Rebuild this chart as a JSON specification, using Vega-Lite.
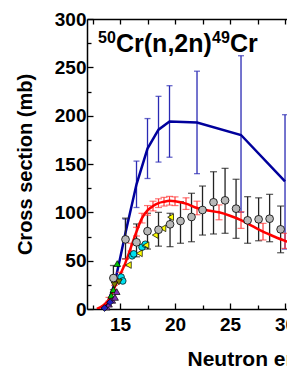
{
  "$schema": "https://vega.github.io/schema/vega-lite/v6.json",
  "autosize": {"type": "none"},
  "padding": {"left": 87, "top": 19, "right": 0, "bottom": 58},
  "width": 200,
  "height": 290,
  "background": "white",
  "config": {
    "view": {"stroke": null},
    "axis": {
      "domainColor": "black", "domainWidth": 1.5, "tickColor": "black", "tickWidth": 1.3,
      "grid": false, "labelFont": "Liberation Sans", "labelFontWeight": "bold", "labelFontSize": 19,
      "labelColor": "black", "titleFont": "Liberation Sans", "titleFontWeight": "bold",
      "titleFontSize": 20, "titleColor": "black", "labelFlush": false, "labelOverlap": false
    }
  },
  "datasets": {
    "blue_line": [
      {"E": 13.3, "V": 0}, {"E": 13.7, "V": 4}, {"E": 14.0, "V": 10}, {"E": 14.5, "V": 26},
      {"E": 15.0, "V": 52}, {"E": 15.5, "V": 79}, {"E": 16.5, "V": 129}, {"E": 17.5, "V": 166},
      {"E": 18.5, "V": 185.5}, {"E": 19.5, "V": 194}, {"E": 22, "V": 193}, {"E": 26, "V": 180},
      {"E": 30, "V": 132}
    ],
    "blue_err": [
      {"E": 15.5, "lo": 70, "hi": 93}, {"E": 16.5, "lo": 105, "hi": 153}, {"E": 17.5, "lo": 135, "hi": 197},
      {"E": 18.5, "lo": 152, "hi": 220}, {"E": 19.5, "lo": 157, "hi": 231}, {"E": 22, "lo": 140, "hi": 246},
      {"E": 26, "lo": 100, "hi": 262}, {"E": 30, "lo": 62, "hi": 201}
    ],
    "red_line": [
      {"E": 12.9, "V": 0}, {"E": 13.5, "V": 4}, {"E": 14.0, "V": 10}, {"E": 14.5, "V": 22},
      {"E": 15.0, "V": 35}, {"E": 15.5, "V": 48}, {"E": 16.0, "V": 64}, {"E": 16.5, "V": 80},
      {"E": 17.0, "V": 94}, {"E": 17.5, "V": 102}, {"E": 18.0, "V": 106.5}, {"E": 18.5, "V": 109.5},
      {"E": 19.0, "V": 111}, {"E": 19.5, "V": 112}, {"E": 20.0, "V": 111.5}, {"E": 21.0, "V": 109},
      {"E": 22.0, "V": 104.5}, {"E": 23.0, "V": 102}, {"E": 24.0, "V": 100}, {"E": 25.0, "V": 96.5},
      {"E": 26.0, "V": 92}, {"E": 27.0, "V": 86}, {"E": 28.0, "V": 80}, {"E": 29.0, "V": 75},
      {"E": 30.0, "V": 70.5}, {"E": 31.0, "V": 67}
    ],
    "red_err": [
      {"E": 14.0, "lo": 8, "hi": 12}, {"E": 14.5, "lo": 19.5, "hi": 24.5}, {"E": 15.0, "lo": 32, "hi": 38},
      {"E": 15.5, "lo": 44.5, "hi": 51.5}, {"E": 16.0, "lo": 60, "hi": 68}, {"E": 16.5, "lo": 75.5, "hi": 84.5},
      {"E": 17.0, "lo": 89, "hi": 99}, {"E": 17.5, "lo": 97, "hi": 107}, {"E": 18.0, "lo": 101.5, "hi": 111.5},
      {"E": 18.5, "lo": 105, "hi": 114}, {"E": 19.0, "lo": 106.5, "hi": 115.5}, {"E": 19.5, "lo": 107.5, "hi": 116.5},
      {"E": 20.0, "lo": 107, "hi": 116}, {"E": 21.0, "lo": 103, "hi": 115}, {"E": 22.0, "lo": 97.5, "hi": 111.5},
      {"E": 24.0, "lo": 92.3, "hi": 107.7}, {"E": 26.0, "lo": 83.4, "hi": 100.6}, {"E": 28.0, "lo": 71.4, "hi": 88.6},
      {"E": 30.0, "lo": 62.7, "hi": 78.3}
    ],
    "gray": [
      {"E": 14.4, "V": 32, "lo": 20, "hi": 45}, {"E": 15.5, "V": 72, "lo": 52, "hi": 94},
      {"E": 16.5, "V": 69, "lo": 54, "hi": 88}, {"E": 17.5, "V": 80.5, "lo": 62, "hi": 99},
      {"E": 18.5, "V": 82, "lo": 65, "hi": 100}, {"E": 19.55, "V": 87.6, "lo": 64.5, "hi": 99},
      {"E": 20.5, "V": 91, "lo": 68, "hi": 111}, {"E": 21.5, "V": 95.2, "lo": 69.6, "hi": 119.7},
      {"E": 22.5, "V": 102.4, "lo": 76.5, "hi": 127.2}, {"E": 23.5, "V": 110.4, "lo": 77.6, "hi": 142},
      {"E": 24.55, "V": 112.4, "lo": 78.3, "hi": 145.5}, {"E": 25.55, "V": 103.8, "lo": 73.1, "hi": 134.2},
      {"E": 26.6, "V": 91.7, "lo": 68, "hi": 116.2}, {"E": 27.6, "V": 92.8, "lo": 70.6, "hi": 115},
      {"E": 28.6, "V": 93.4, "lo": 69.6, "hi": 118.6}, {"E": 29.6, "V": 82.4, "lo": 58.2, "hi": 106.5}
    ],
    "exp": [
      {"E": 15.1, "V": 33, "set": "cyan"}, {"E": 15.25, "V": 29, "set": "cyan"}, {"E": 16.1, "V": 55, "set": "cyan"},
      {"E": 16.25, "V": 57, "set": "cyan"}, {"E": 17.0, "V": 64, "set": "cyan"}, {"E": 17.3, "V": 67, "set": "cyan"},
      {"E": 15.76, "V": 45.5, "set": "yellow"}, {"E": 16.76, "V": 57.6, "set": "yellow"}, {"E": 17.36, "V": 66, "set": "yellow"},
      {"E": 18.2, "V": 76.5, "set": "yellow"}, {"E": 18.9, "V": 83.5, "set": "yellow"}, {"E": 19.6, "V": 95, "set": "yellow"},
      {"E": 14.75, "V": 47, "set": "green"}, {"E": 14.2, "V": 14, "set": "green"}, {"E": 14.4, "V": 20, "set": "green"},
      {"E": 13.8, "V": 2, "set": "purple"}, {"E": 14.0, "V": 5, "set": "purple"}, {"E": 14.3, "V": 9, "set": "purple"},
      {"E": 14.55, "V": 12, "set": "purple"}, {"E": 14.7, "V": 18, "set": "purple"},
      {"E": 13.6, "V": 1, "set": "blue"}, {"E": 14.1, "V": 7, "set": "blue"},
      {"E": 14.5, "V": 25, "set": "olive"}, {"E": 14.9, "V": 28, "set": "olive"}
    ],
    "label": [{"E": 13.0, "V": 266, "sup1": "50", "main1": "Cr(n,2n)", "sup2": "49", "main2": "Cr"}]
  },
  "layer": [
    {
      "data": {"name": "blue_err"},
      "mark": {"type": "errorbar", "ticks": true, "size": 6, "thickness": 1.3, "color": "#2a2ab4"},
      "encoding": {
        "x": {"field": "E", "type": "quantitative", "scale": {"domain": [12, 30.18], "nice": false, "zero": false}, "axis": null},
        "y": {"field": "lo", "type": "quantitative", "scale": {"domain": [0, 300], "nice": false}, "axis": null},
        "y2": {"field": "hi"}
      }
    },
    {
      "data": {"name": "blue_line"},
      "mark": {"type": "line", "color": "#00009c", "strokeWidth": 2.5, "clip": true},
      "encoding": {
        "x": {"field": "E", "type": "quantitative", "scale": {"domain": [12, 30.18], "nice": false, "zero": false},
              "axis": {"orient": "bottom", "values": [12.5, 17.5, 22.5, 27.5], "labels": false, "domain": false, "tickSize": -4, "title": null}},
        "y": {"field": "V", "type": "quantitative", "scale": {"domain": [0, 300], "nice": false},
              "axis": {"orient": "left", "values": [25, 75, 125, 175, 225, 275], "labels": false, "domain": false, "tickSize": -4, "title": null}}
      }
    },
    {
      "data": {"name": "gray"},
      "mark": {"type": "errorbar", "ticks": true, "size": 7, "thickness": 1.3, "color": "#222222"},
      "encoding": {
        "x": {"field": "E", "type": "quantitative", "scale": {"domain": [12, 30.18], "nice": false, "zero": false}, "axis": null},
        "y": {"field": "lo", "type": "quantitative", "scale": {"domain": [0, 300], "nice": false}, "axis": null},
        "y2": {"field": "hi"}
      }
    },
    {
      "data": {"name": "red_err"},
      "mark": {"type": "errorbar", "ticks": true, "size": 7, "thickness": 1.2, "color": "#ff3a3a"},
      "encoding": {
        "x": {"field": "E", "type": "quantitative", "scale": {"domain": [12, 30.18], "nice": false, "zero": false}, "axis": null},
        "y": {"field": "lo", "type": "quantitative", "scale": {"domain": [0, 300], "nice": false}, "axis": null},
        "y2": {"field": "hi"}
      }
    },
    {
      "data": {"name": "red_line"},
      "mark": {"type": "line", "color": "#ff0000", "strokeWidth": 2.5, "interpolate": "monotone", "clip": true},
      "encoding": {
        "x": {"field": "E", "type": "quantitative", "scale": {"domain": [12, 30.18], "nice": false, "zero": false},
              "axis": {"orient": "bottom", "values": [15, 20, 25, 30], "tickSize": -6, "labelPadding": 12,
                       "title": "Neutron energy (MeV)", "titleFontSize": 21, "titleX": 100, "titleY": 56, "titleAlign": "left", "titleBaseline": "alphabetic"}},
        "y": {"field": "V", "type": "quantitative", "scale": {"domain": [0, 300], "nice": false},
              "axis": {"orient": "left", "values": [0, 50, 100, 150, 200, 250, 300], "tickSize": -6, "labelPadding": 7,
                       "title": "Cross section (mb)", "titleX": -62, "titleY": 145, "titleAlign": "center", "titleBaseline": "middle", "titleAngle": -90}}
      }
    },
    {
      "data": {"name": "exp"},
      "mark": {"type": "point", "filled": true, "size": 45, "stroke": "#000000", "strokeWidth": 0.7, "opacity": 1},
      "encoding": {
        "x": {"field": "E", "type": "quantitative", "scale": {"domain": [12, 30.18], "nice": false, "zero": false},
              "axis": {"orient": "top", "values": [12.5, 15, 17.5, 20, 22.5, 25, 27.5, 30], "labels": false, "tickSize": -5, "title": null}},
        "y": {"field": "V", "type": "quantitative", "scale": {"domain": [0, 300], "nice": false}, "axis": null},
        "fill": {"field": "set", "type": "nominal", "legend": null,
                 "scale": {"domain": ["cyan", "yellow", "green", "purple", "blue", "olive"],
                           "range": ["#00e0f0", "#ffff00", "#00c000", "#8030b0", "#2020c0", "#808000"]}},
        "shape": {"field": "set", "type": "nominal", "legend": null,
                  "scale": {"domain": ["cyan", "yellow", "green", "purple", "blue", "olive"],
                            "range": ["circle", "triangle-left", "triangle-up", "triangle-up", "diamond", "triangle-down"]}}
      }
    },
    {
      "data": {"name": "gray"},
      "mark": {"type": "point", "filled": true, "size": 60, "fill": "#b8b8b8", "stroke": "#000000", "strokeWidth": 0.8, "opacity": 1},
      "encoding": {
        "x": {"field": "E", "type": "quantitative", "scale": {"domain": [12, 30.18], "nice": false, "zero": false}, "axis": null},
        "y": {"field": "V", "type": "quantitative", "scale": {"domain": [0, 300], "nice": false}, "axis": null}
      }
    },
    {
      "data": {"name": "label"},
      "mark": {"type": "text", "align": "left", "baseline": "alphabetic", "font": "Liberation Sans", "fontWeight": "bold", "fontSize": 16, "dy": -9, "color": "black"},
      "encoding": {
        "x": {"field": "E", "type": "quantitative", "scale": {"domain": [12, 30.18], "nice": false, "zero": false}, "axis": null},
        "y": {"field": "V", "type": "quantitative", "scale": {"domain": [0, 300], "nice": false}, "axis": null},
        "text": {"field": "sup1"}
      }
    },
    {
      "data": {"name": "label"},
      "mark": {"type": "text", "align": "left", "baseline": "alphabetic", "font": "Liberation Sans", "fontWeight": "bold", "fontSize": 25, "dx": 18, "color": "black"},
      "encoding": {
        "x": {"field": "E", "type": "quantitative", "scale": {"domain": [12, 30.18], "nice": false, "zero": false}, "axis": null},
        "y": {"field": "V", "type": "quantitative", "scale": {"domain": [0, 300], "nice": false}, "axis": null},
        "text": {"field": "main1"}
      }
    },
    {
      "data": {"name": "label"},
      "mark": {"type": "text", "align": "left", "baseline": "alphabetic", "font": "Liberation Sans", "fontWeight": "bold", "fontSize": 16, "dx": 114, "dy": -9, "color": "black"},
      "encoding": {
        "x": {"field": "E", "type": "quantitative", "scale": {"domain": [12, 30.18], "nice": false, "zero": false}, "axis": null},
        "y": {"field": "V", "type": "quantitative", "scale": {"domain": [0, 300], "nice": false}, "axis": null},
        "text": {"field": "sup2"}
      }
    },
    {
      "data": {"name": "label"},
      "mark": {"type": "text", "align": "left", "baseline": "alphabetic", "font": "Liberation Sans", "fontWeight": "bold", "fontSize": 25, "dx": 132, "color": "black"},
      "encoding": {
        "x": {"field": "E", "type": "quantitative", "scale": {"domain": [12, 30.18], "nice": false, "zero": false}, "axis": null},
        "y": {"field": "V", "type": "quantitative", "scale": {"domain": [0, 300], "nice": false}, "axis": null},
        "text": {"field": "main2"}
      }
    }
  ],
  "resolve": {"axis": {"x": "independent", "y": "independent"}}
}
